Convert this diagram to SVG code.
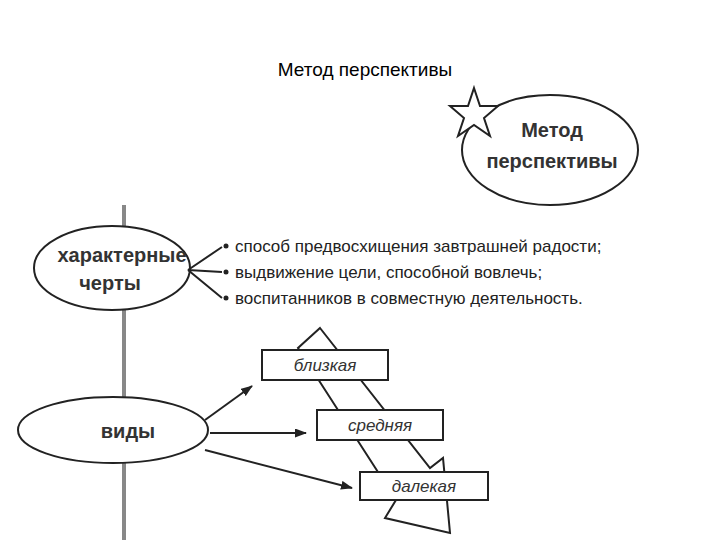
<svg xmlns="http://www.w3.org/2000/svg" width="720" height="540" viewBox="0 0 720 540">
<style>
.o{fill:#fff;stroke:#222;stroke-width:2}
.b{font-family:"Liberation Sans",Arial,sans-serif;font-weight:bold;fill:#333;font-size:20px;text-anchor:middle}
.i{font-family:"Liberation Sans",Arial,sans-serif;font-style:italic;fill:#333;font-size:17px;text-anchor:middle}
.t{font-family:"Liberation Sans",Arial,sans-serif;fill:#222;font-size:17px}
.c{stroke:#222;stroke-width:2;fill:none}
</style>
<defs><marker id="a" markerWidth="12" markerHeight="9" refX="11" refY="4.5" orient="auto" markerUnits="userSpaceOnUse"><path d="M0,0L12,4.5L0,9z" fill="#222"/></marker></defs>
<rect width="720" height="540" fill="#fff"/>
<text x="365" y="76" font-family="Liberation Sans,Arial,sans-serif" font-size="19" text-anchor="middle" fill="#000">Метод перспективы</text>
<line x1="124" y1="205" x2="124" y2="540" stroke="#888" stroke-width="4"/>
<g id="band"><path class="o" d="M320,328L430,468L443,458L450,533L385,518L396,500L298,348Z"/></g>
<g id="goal"><ellipse class="o" cx="550" cy="150" rx="88" ry="55"/><text class="b" x="552" y="137">Метод</text><text class="b" x="552" y="168">перспективы</text>
<polygon class="o" stroke-width="1.5" points="474,88 480,106 498,106 484,118 490,136 474,125 458,136 464,118 450,106 468,106"/></g>
<g id="features"><ellipse class="o" cx="112" cy="268" rx="78" ry="42"/><text class="b" x="122" y="262">характерные</text><text class="b" x="110" y="290">черты</text></g>
<g id="kinds"><ellipse class="o" cx="113" cy="430" rx="95" ry="33"/><text class="b" x="128" y="438">виды</text></g>
<g id="list" class="t">
<circle cx="226" cy="246" r="2.5" fill="#222"/><text x="235" y="252">способ предвосхищения завтрашней радости;</text>
<circle cx="226" cy="272" r="2.5" fill="#222"/><text x="235" y="278">выдвижение цели, способной вовлечь;</text>
<circle cx="226" cy="298" r="2.5" fill="#222"/><text x="235" y="304">воспитанников в совместную деятельность.</text></g>
<g id="near"><rect class="o" x="262" y="350" width="126" height="30"/><text class="i" x="325" y="371">близкая</text></g>
<g id="mid"><rect class="o" x="317" y="410" width="126" height="30"/><text class="i" x="380" y="431">средняя</text></g>
<g id="far"><rect class="o" x="360" y="472" width="128" height="28"/><text class="i" x="424" y="492">далекая</text></g>
<g id="connectors">
<path class="c" stroke-width="1.3" d="M188,270L222,247M188,270L222,272M188,270L222,298"/>
<line class="c" x1="205" y1="420" x2="252" y2="386" marker-end="url(#a)"/>
<line class="c" x1="210" y1="433" x2="306" y2="433" marker-end="url(#a)"/>
<line class="c" x1="205" y1="450" x2="352" y2="488" marker-end="url(#a)"/>
</g>
</svg>
